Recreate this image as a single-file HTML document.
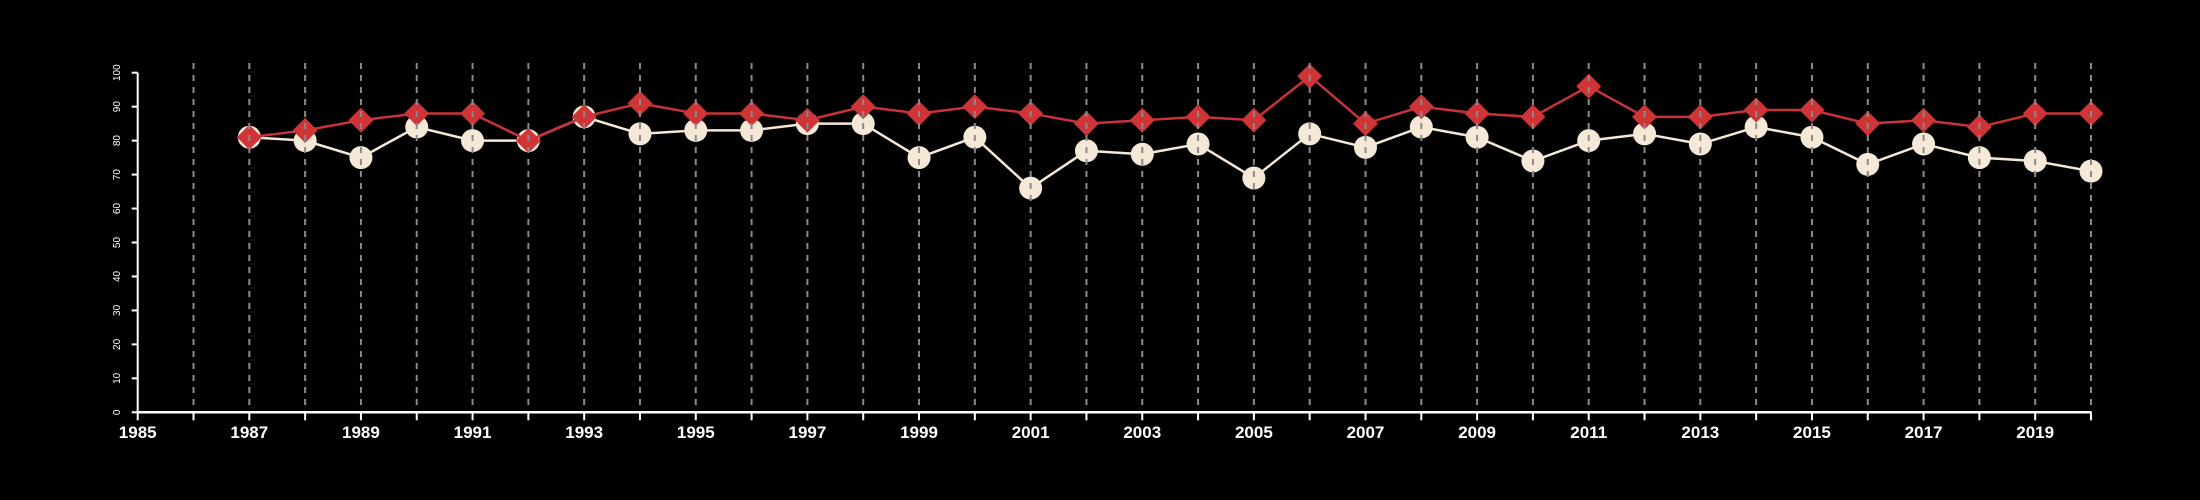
<!DOCTYPE html>
<html><head><meta charset="utf-8"><style>
html,body{margin:0;padding:0;background:#000;}
svg{display:block;font-family:"Liberation Sans",sans-serif;}
</style></head><body>
<svg id="chart" width="2200" height="500" viewBox="0 0 2200 500" xmlns="http://www.w3.org/2000/svg">
<rect width="2200" height="500" fill="#000"/>
<g id="marks"></g>
<g id="grid"></g>
<g id="axes"></g>
</svg>
<script>
const years = [1987,1988,1989,1990,1991,1992,1993,1994,1995,1996,1997,1998,1999,2000,2001,2002,2003,2004,2005,2006,2007,2008,2009,2010,2011,2012,2013,2014,2015,2016,2017,2018,2019,2020];
const seriesCream = [81,80,75,84,80,80,87,82,83,83,85,85,75,81,66,77,76,79,69,82,78,84,81,74,80,82,79,84,81,73,79,75,74,71];
const seriesRed = [81,83,86,88,88,80,87,91,88,88,86,90,88,90,88,85,86,87,86,99,85,90,88,87,96,87,87,89,89,85,86,84,88,88];
const yTicks = [0,10,20,30,40,50,60,70,80,90,100];
const xLabels = [1985,1987,1989,1991,1993,1995,1997,1999,2001,2003,2005,2007,2009,2011,2013,2015,2017,2019];
const xMin = 1985, xMax = 2020, yMin = 0, yMax = 100;

const NS = "http://www.w3.org/2000/svg";
const L = 137.7, R = 2091, T = 72.7, B = 412.3;
const xs = v => L + (v - xMin) / (xMax - xMin) * (R - L);
const ys = v => B - (v - yMin) / (yMax - yMin) * (B - T);
function mk(tag, attrs, parent) {
  const e = document.createElementNS(NS, tag);
  for (const k in attrs) e.setAttribute(k, attrs[k]);
  parent.appendChild(e);
  return e;
}
const marks = document.getElementById('marks');
const grid = document.getElementById('grid');
const axes = document.getElementById('axes');

// gridlines
for (let y = xMin + 1; y <= xMax; y++) {
  const g = mk('line', {x1: xs(y), x2: xs(y), y1: 63, y2: B, stroke: '#8a8a8a', 'stroke-width': 2, 'stroke-dasharray': '6,6'}, grid);
  
  
}

// cream series
const pc = years.map((y, i) => xs(y) + ',' + ys(seriesCream[i])).join(' ');
const lc = mk('polyline', {points: pc, fill: 'none', stroke: '#f5e8d6', 'stroke-width': 2.5}, marks);


years.forEach((y, i) => {
  const c = mk('circle', {cx: xs(y), cy: ys(seriesCream[i]), r: 11.5, fill: '#f5e8d6'}, marks);
  
  
});

// red series
const pr = years.map((y, i) => xs(y) + ',' + ys(seriesRed[i])).join(' ');
const lr = mk('polyline', {points: pr, fill: 'none', stroke: '#c8323a', 'stroke-width': 2.5}, marks);


years.forEach((y, i) => {
  const cx = xs(y), cy = ys(seriesRed[i]), d = 12.5;
  const p = mk('polygon', {points: `${cx},${cy-d} ${cx+d},${cy} ${cx},${cy+d} ${cx-d},${cy}`, fill: '#cf3437'}, marks);
  
  
});

// y axis
const ya = mk('line', {x1: L, x2: L, y1: T, y2: B, stroke: '#fff', 'stroke-width': 2}, axes);


yTicks.forEach(v => {
  const t = mk('line', {x1: L - 6, x2: L, y1: ys(v), y2: ys(v), stroke: '#fff', 'stroke-width': 2}, axes);
  
  
  const tx = mk('text', {x: 0, y: 0, fill: '#fff', 'font-size': 10, 'text-anchor': 'middle', transform: `translate(120,${ys(v)}) rotate(-90)`}, axes);
  tx.textContent = v;
  
  
});

// x axis
const xa = mk('line', {x1: L, x2: R, y1: B, y2: B, stroke: '#fff', 'stroke-width': 2.5}, axes);


for (let y = xMin; y <= xMax; y++) {
  const t = mk('line', {x1: xs(y), x2: xs(y), y1: B, y2: B + 8, stroke: '#fff', 'stroke-width': 2}, axes);
  
  
}
xLabels.forEach(v => {
  const tx = mk('text', {x: xs(v), y: 438, fill: '#fff', 'font-size': 17, 'font-weight': 'bold', 'text-anchor': 'middle'}, axes);
  tx.textContent = v;
  
  
});
</script>
</body></html>
